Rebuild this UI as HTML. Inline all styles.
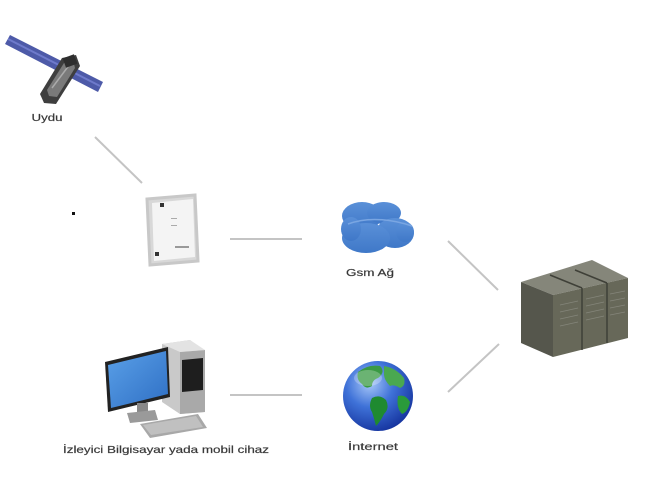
<!DOCTYPE html>
<html><head><meta charset="utf-8"><style>
html,body{margin:0;padding:0;background:#fff;}
svg{display:block;}
text{font-family:"Liberation Sans",sans-serif;fill:#333;font-size:10.5px;stroke:#555;stroke-width:0.25px;}
</style></head><body>
<svg width="650" height="500" viewBox="0 0 650 500" xmlns="http://www.w3.org/2000/svg">
<defs>
<radialGradient id="glb" cx="0.38" cy="0.32" r="0.75">
<stop offset="0" stop-color="#a8c8f8"/><stop offset="0.45" stop-color="#3f72d8"/><stop offset="1" stop-color="#122f9a"/>
</radialGradient>
<linearGradient id="scr" x1="0" y1="0" x2="1" y2="1">
<stop offset="0" stop-color="#5aa0e8"/><stop offset="1" stop-color="#2f6fc4"/>
</linearGradient>
<linearGradient id="cld" x1="0" y1="0" x2="0" y2="1">
<stop offset="0" stop-color="#5a90d8"/><stop offset="1" stop-color="#3f78c8"/>
</linearGradient>
</defs>

<!-- connectors -->
<g stroke="#c4c4c4" stroke-width="2" fill="none">
<line x1="95" y1="137" x2="142" y2="183"/>
<line x1="230" y1="239" x2="302" y2="239"/>
<line x1="230" y1="395" x2="302" y2="395"/>
<line x1="448" y1="241" x2="498" y2="290"/>
<line x1="448" y1="392" x2="499" y2="344"/>
</g>

<!-- satellite -->
<g>
<polygon points="5,44 10,35 103,82 98,92" fill="#4d5aa8"/>
<line x1="8" y1="39" x2="100" y2="86" stroke="#6e7acb" stroke-width="2"/>
<polygon points="62,58 76,55 80,66 56,104 44,103 40,94" fill="#3e3e3e"/>
<polygon points="64,63 73,60 75,68 57,97 49,96 47,90" fill="#7a7a7a"/>
<line x1="52" y1="88" x2="70" y2="64" stroke="#aaa" stroke-width="1.5"/>
<rect x="64" y="56" width="12" height="10" fill="#2e2e2e" transform="rotate(-20 70 61)"/>
</g>
<text x="47" y="121" text-anchor="middle" textLength="31" lengthAdjust="spacingAndGlyphs">Uydu</text>

<!-- dot -->
<rect x="72" y="212" width="3" height="3" fill="#111"/>

<!-- device -->
<g>
<polygon points="147,199 195,195 198,261 150,265" fill="#d8d8d8" stroke="#c8c8c8" stroke-width="3"/>
<polygon points="152,203 193,199 195,257 154,261" fill="#f4f4f4"/>
<rect x="160" y="203" width="4" height="4" fill="#333"/>
<rect x="155" y="252" width="4" height="4" fill="#333"/>
<rect x="171" y="218" width="6" height="1" fill="#aaa"/>
<rect x="171" y="225" width="6" height="1" fill="#aaa"/>
<rect x="175" y="246" width="14" height="2" fill="#999"/>
</g>

<!-- cloud -->
<g fill="url(#cld)">
<ellipse cx="362" cy="216" rx="20" ry="14"/>
<ellipse cx="384" cy="213" rx="17" ry="11"/>
<ellipse cx="395" cy="233" rx="19" ry="15"/>
<ellipse cx="366" cy="238" rx="24" ry="15"/>
<ellipse cx="351" cy="229" rx="10" ry="12"/>
<ellipse cx="405" cy="232" rx="9" ry="10"/>
</g>
<path d="M348 224 Q375 214 412 226" stroke="#7aa6e2" stroke-width="1.5" fill="none"/>
<text x="370" y="276" text-anchor="middle" textLength="48" lengthAdjust="spacingAndGlyphs">Gsm Ağ</text>

<!-- server -->
<g>
<polygon points="521,282 592,260 628,278 553,295" fill="#85867a"/>
<polygon points="521,282 553,295 553,357 521,343" fill="#55564c"/>
<polygon points="553,295 628,278 628,338 553,357" fill="#676859"/>
<g stroke="#3f4038" stroke-width="1.5">
<line x1="582" y1="288" x2="550" y2="275"/>
<line x1="607" y1="283" x2="575" y2="270"/>
<line x1="582" y1="288" x2="582" y2="350"/>
<line x1="607" y1="283" x2="607" y2="343"/>
</g>
<g stroke="#84857a" stroke-width="0.8">
<line x1="560" y1="305" x2="578" y2="301"/><line x1="560" y1="312" x2="578" y2="308"/>
<line x1="560" y1="319" x2="578" y2="315"/><line x1="560" y1="326" x2="578" y2="322"/>
<line x1="586" y1="299" x2="604" y2="295"/><line x1="586" y1="306" x2="604" y2="302"/>
<line x1="586" y1="313" x2="604" y2="309"/><line x1="586" y1="320" x2="604" y2="316"/>
<line x1="610" y1="294" x2="625" y2="291"/><line x1="610" y1="301" x2="625" y2="298"/>
<line x1="610" y1="308" x2="625" y2="305"/><line x1="610" y1="315" x2="625" y2="312"/>
</g>
</g>

<!-- computer -->
<g>
<polygon points="162,344 190,340 205,352 205,412 180,414 162,402" fill="#c9c9c9"/>
<polygon points="180,352 205,350 205,412 180,414" fill="#a9a9a9"/>
<polygon points="182,360 203,358 203,390 182,392" fill="#1e1e1e"/>
<polygon points="162,344 190,340 205,350 180,352" fill="#e3e3e3"/>
<polygon points="105,362 168,347 170,397 108,412" fill="#222"/>
<polygon points="108,365 166,351 168,394 111,408" fill="url(#scr)"/>
<rect x="137" y="403" width="11" height="9" fill="#888"/>
<polygon points="127,413 155,410 158,420 130,423" fill="#9a9a9a"/>
<polygon points="140,424 198,414 207,428 150,438" fill="#a8a8a8"/>
<polygon points="143,425 196,416 203,427 151,435" fill="#c0c0c0"/>
</g>
<text x="166" y="453" text-anchor="middle" textLength="206" lengthAdjust="spacingAndGlyphs">İzleyici Bilgisayar yada mobil cihaz</text>

<!-- globe -->
<g>
<circle cx="378" cy="396" r="35" fill="url(#glb)"/>
<path d="M358 372 q10 -8 22 -6 q6 6 -2 12 q-6 2 -6 8 q-6 4 -10 -2 q-6 -4 -4 -12z" fill="#3a9a44"/>
<path d="M384 366 q12 2 20 12 q2 8 -4 10 q-6 -4 -10 -2 q-6 -6 -6 -12z" fill="#4aa850"/>
<path d="M372 398 q8 -4 14 2 q4 8 -2 14 q-4 8 -8 12 q-2 -8 -4 -14 q-4 -6 0 -14z" fill="#1f8a30"/>
<path d="M398 396 q8 -2 12 6 q-2 10 -8 12 q-6 -6 -4 -18z" fill="#2a9a3a"/>
<ellipse cx="368" cy="378" rx="14" ry="8" fill="#fff" opacity="0.25"/>
</g>
<text x="373" y="450" text-anchor="middle" textLength="50" lengthAdjust="spacingAndGlyphs">İnternet</text>
</svg>
</body></html>
